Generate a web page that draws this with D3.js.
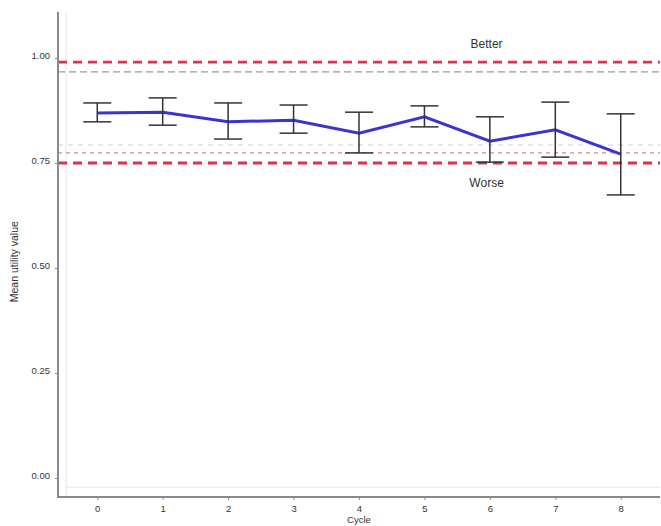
<!DOCTYPE html>
<html><head><meta charset="utf-8">
<script src="https://cdn.jsdelivr.net/npm/d3@7"></script>
<style>body{margin:0;background:#fff}svg{display:block;font-family:"Liberation Sans",Arial,sans-serif}</style>
</head><body>
<svg id="c" width="661" height="526"></svg>
<script>
const cycles = [0,1,2,3,4,5,6,7,8];
const meanUtility = [0.869,0.871,0.848,0.852,0.821,0.860,0.802,0.829,0.771];
const lowerCI = [0.848,0.840,0.807,0.821,0.774,0.836,0.752,0.764,0.674];
const upperCI = [0.893,0.905,0.893,0.888,0.871,0.886,0.860,0.895,0.867];
const yTicks = [0,0.25,0.5,0.75,1.0];
const refLines = [
  {v:0.990, kind:"red"},
  {v:0.967, kind:"gray"},
  {v:0.793, kind:"faint"},
  {v:0.774, kind:"redthin"},
  {v:0.750, kind:"red"}
];
const labels = [{text:"Better", v:1.033},{text:"Worse", v:0.703}];

const svg = d3.select("#c");
const x = d3.scaleLinear().domain([-0.6,8.6]).range([58,660]);
const y = d3.scaleLinear().domain([0,1]).range([478,58]);
const yTop = y(1.11), yBottom = y(-0.045);

// faint inner frame lines
svg.append("line").attr("x1",66).attr("x2",660).attr("y1",y(-0.022)).attr("y2",y(-0.022)).attr("stroke","#e6e6e6");
svg.append("line").attr("x1",66).attr("x2",66).attr("y1",yTop).attr("y2",yBottom).attr("stroke","#e6e6e6");

// reference lines
const styles = {
  red:{stroke:"#e0304a",w:2.8,dash:"9,6"},
  redthin:{stroke:"#f08090",w:1.3,dash:"4,4"},
  gray:{stroke:"#9a9a9a",w:1.2,dash:"7,4"},
  faint:{stroke:"#cfcfcf",w:1,dash:"5,5"}
};
svg.selectAll(".ref").data(refLines).join("line")
  .attr("x1",58).attr("x2",660)
  .attr("y1",d=>y(d.v)).attr("y2",d=>y(d.v))
  .attr("stroke",d=>styles[d.kind].stroke)
  .attr("stroke-width",d=>styles[d.kind].w)
  .attr("stroke-dasharray",d=>styles[d.kind].dash);

svg.selectAll(".lab").data(labels).join("text")
  .attr("x",x(5.95)).attr("y",d=>y(d.v)).attr("dy","0.35em")
  .attr("text-anchor","middle").attr("font-size",12).attr("fill","#333")
  .text(d=>d.text);

// axes
const yAxis = d3.axisLeft(y).tickValues(yTicks).tickFormat(d3.format(".2f")).tickSize(3);
const gy = svg.append("g").attr("transform","translate(58,0)").call(yAxis);
gy.select(".domain").remove();
gy.selectAll("line").attr("stroke","#888");
gy.selectAll("text").attr("font-size",9.5).attr("fill","#333").attr("dx","-2").attr("dy","0.1em");

const xAxis = d3.axisBottom(x).tickValues(cycles).tickFormat(d3.format("d")).tickSize(3);
const gx = svg.append("g").attr("transform",`translate(0,${yBottom})`).call(xAxis);
gx.select(".domain").remove();
gx.selectAll("line").attr("stroke","#888");
gx.selectAll("text").attr("font-size",9.5).attr("fill","#333").attr("dy","1.0em");

svg.append("line").attr("x1",58).attr("x2",58).attr("y1",yTop).attr("y2",yBottom+1).attr("stroke","#8a8a8a").attr("stroke-width",2);
svg.append("line").attr("x1",57).attr("x2",660).attr("y1",yBottom).attr("y2",yBottom).attr("stroke","#8a8a8a").attr("stroke-width",2);

svg.append("text").attr("transform",`translate(18,${y(0.515)}) rotate(-90)`)
  .attr("text-anchor","middle").attr("font-size",10.5).attr("fill","#333").text("Mean utility value");
svg.append("text").attr("x",x(4)).attr("y",523).attr("text-anchor","middle")
  .attr("font-size",9.5).attr("fill","#333").text("Cycle");

// line
svg.append("path").datum(cycles)
  .attr("fill","none").attr("stroke","#3a34d0").attr("stroke-width",3)
  .attr("d",d3.line().x(d=>x(d)).y((d,i)=>y(meanUtility[i])));

// error bars
const eb = svg.selectAll(".eb").data(cycles).join("g").attr("stroke","#333").attr("stroke-width",1.5);
eb.append("line").attr("x1",d=>x(d)).attr("x2",d=>x(d)).attr("y1",(d,i)=>y(upperCI[i])).attr("y2",(d,i)=>y(lowerCI[i]));
eb.append("line").attr("x1",d=>x(d)-14).attr("x2",d=>x(d)+14).attr("y1",(d,i)=>y(upperCI[i])).attr("y2",(d,i)=>y(upperCI[i]));
eb.append("line").attr("x1",d=>x(d)-14).attr("x2",d=>x(d)+14).attr("y1",(d,i)=>y(lowerCI[i])).attr("y2",(d,i)=>y(lowerCI[i]));
</script>
</body></html>
